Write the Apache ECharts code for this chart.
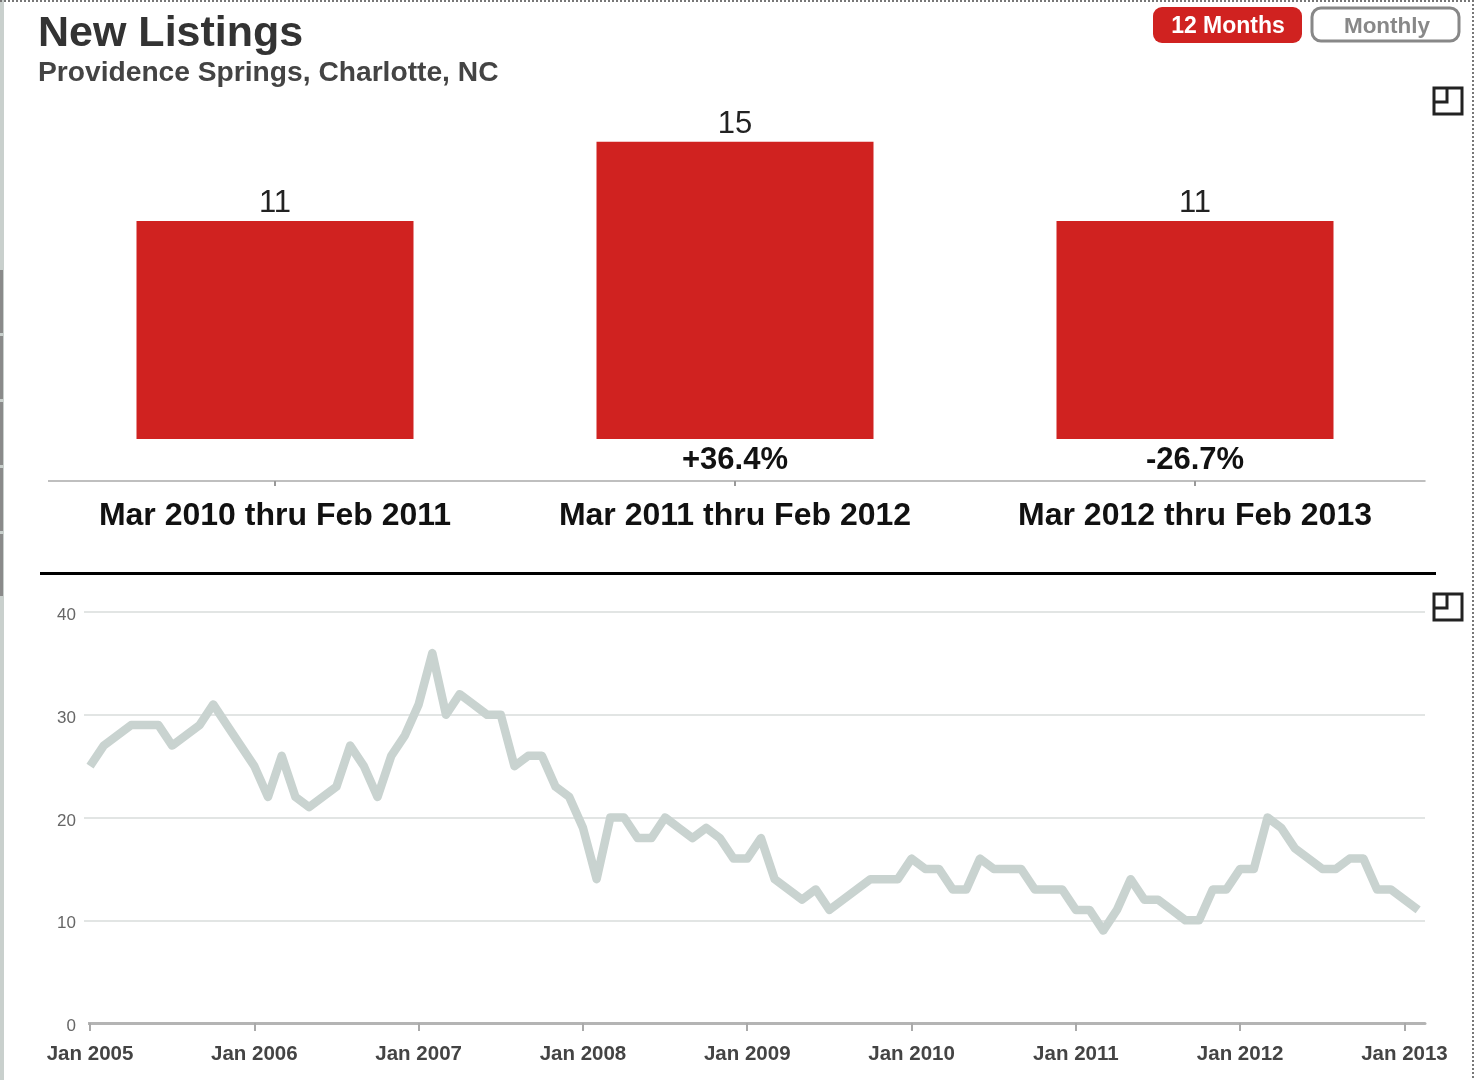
<!DOCTYPE html>
<html><head><meta charset="utf-8">
<style>html,body{margin:0;padding:0;background:#fff}#c{width:1475px;height:1080px}</style>
<script src="https://cdn.jsdelivr.net/npm/echarts@6/dist/echarts.min.js"></script>
</head><body><div id="c"></div>
<script>
const periodLabels = ['Mar 2010 thru Feb 2011','Mar 2011 thru Feb 2012','Mar 2012 thru Feb 2013'];
const periodValues = [11,15,11];
const periodChanges = ['','+36.4%','-26.7%'];
const monthlyValues = [
 25,27,28,29,29,29,27,28,29,31,29,27,
 25,22,26,22,21,22,23,27,25,22,26,28,
 31,36,30,32,31,30,30,25,26,26,23,22,
 19,14,20,20,18,18,20,19,18,19,18,16,
 16,18,14,13,12,13,11,12,13,14,14,14,
 16,15,15,13,13,16,15,15,15,13,13,13,
 11,11,9,11,14,12,12,11,10,10,13,13,
 15,15,20,19,17,16,15,15,16,16,13,13,
 12,11];
const yearTickPositions = [0,12,24,36,48,60,72,84,96];
const yearTickLabels = ['Jan 2005','Jan 2006','Jan 2007','Jan 2008','Jan 2009','Jan 2010','Jan 2011','Jan 2012','Jan 2013'];
const monthlyTicks = [0,10,20,30,40];

const FONT = '"Liberation Sans", Arial, sans-serif';
const RED = '#d02220';
const icon = (x,y) => ({type:'group',x,y,silent:true,children:[
  {type:'rect',shape:{x:0,y:0,width:28,height:26},style:{fill:'none',stroke:'#222',lineWidth:3}},
  {type:'polyline',shape:{points:[[0,14],[13,14],[13,0]]},style:{fill:'none',stroke:'#222',lineWidth:3}}
]});
const strip = (y,h) => ({type:'rect',silent:true,shape:{x:0,y,width:3,height:h},style:{fill:'#8a8a8a'}});
const mask = (x,y,w,h) => ({type:'rect',silent:true,z:10,shape:{x,y,width:w,height:h},style:{fill:'#fff'}});

const chart = echarts.init(document.getElementById('c'),null,{renderer:'canvas'});
chart.setOption({
  animation:false,
  backgroundColor:'#fff',
  textStyle:{fontFamily:FONT},
  title:[
    {text:'New Listings',left:38,top:13,padding:0,textStyle:{fontFamily:FONT,fontSize:43,fontWeight:'bold',color:'#333'}},
    {text:'Providence Springs, Charlotte, NC',left:38,top:59,padding:0,textStyle:{fontFamily:FONT,fontSize:28.2,fontWeight:'bold',color:'#444'}}
  ],
  grid:[
    {left:45,right:50,top:100,height:381,containLabel:false},
    {left:84,right:50,top:612,height:411,containLabel:false}
  ],
  xAxis:[
    {type:'category',gridIndex:0,data:periodLabels,
     axisLine:{onZero:false,lineStyle:{color:'#aaa',width:1.5}},
     axisTick:{show:true,alignWithLabel:true,length:5,lineStyle:{color:'#999',width:2}},
     axisLabel:{fontFamily:FONT,fontSize:32,fontWeight:'bold',color:'#111',margin:19,interval:0}},
    {type:'value',gridIndex:1,min:-0.44,max:97.5,splitLine:{show:false},
     axisLine:{onZero:false,lineStyle:{color:'#b4b4b4',width:3}},
     axisTick:{show:true,customValues:yearTickPositions,length:8,lineStyle:{color:'#aaa',width:2}},
     axisLabel:{customValues:yearTickPositions,fontFamily:FONT,fontSize:20.5,fontWeight:'bold',color:'#444',margin:21,showMinLabel:true,showMaxLabel:true,hideOverlap:false,
       formatter:v=>yearTickLabels[yearTickPositions.indexOf(v)]||''}}
  ],
  yAxis:[
    {type:'value',gridIndex:0,min:-2.12,max:17.1,show:false,splitLine:{show:false}},
    {type:'value',gridIndex:1,min:0,max:40,interval:10,
     axisLine:{show:false},axisTick:{show:false},
     splitLine:{show:true,lineStyle:{color:'#d8dcdb',width:1.5}},
     axisLabel:{customValues:monthlyTicks,fontFamily:FONT,fontSize:17,color:'#666',margin:8,verticalAlign:'top',lineHeight:7}}
  ],
  series:[
    {type:'bar',xAxisIndex:0,yAxisIndex:0,data:periodValues,barWidth:277,
     itemStyle:{color:RED},
     label:{show:true,position:'top',distance:2,fontFamily:FONT,fontSize:31,color:'#222'}},
    {type:'scatter',xAxisIndex:0,yAxisIndex:0,symbolSize:0,silent:true,
     itemStyle:{opacity:1},
     data:periodChanges.map(()=>0),
     label:{show:true,position:'bottom',distance:6,fontFamily:FONT,fontSize:31,fontWeight:'bold',color:'#111',opacity:1,
       formatter:p=>periodChanges[p.dataIndex]}},
    {type:'line',xAxisIndex:1,yAxisIndex:1,data:monthlyValues.map((v,i)=>[i,v]),
     symbol:'none',smooth:false,clip:false,
     lineStyle:{color:'#c9d3d0',width:8.5,join:'round',cap:'butt'}}
  ],
  graphic:[
    {type:'rect',silent:true,shape:{x:0,y:0,width:4,height:1080},style:{fill:'#c9d0cd'}},
    strip(270,63),strip(336,63),strip(402,63),strip(468,63),strip(534,62),
    {type:'line',silent:true,shape:{x1:0,y1:1,x2:1475,y2:1},style:{stroke:'#777',lineWidth:2,lineDash:[2,2]}},
    {type:'line',silent:true,shape:{x1:1473,y1:0,x2:1473,y2:1080},style:{stroke:'#777',lineWidth:2,lineDash:[2,2]}},
    {type:'rect',silent:true,shape:{x:1153,y:7,width:149,height:36,r:9},style:{fill:RED}},
    {type:'text',silent:true,x:1228,y:27,style:{text:'12 Months',font:'bold 23px '+FONT,fill:'#fff',textAlign:'center',textVerticalAlign:'middle'}},
    {type:'rect',silent:true,shape:{x:1312,y:8,width:147,height:33,r:9},style:{fill:'#fff',stroke:'#888',lineWidth:3}},
    {type:'text',silent:true,x:1387,y:27,style:{text:'Monthly',font:'bold 22.5px '+FONT,fill:'#888',textAlign:'center',textVerticalAlign:'middle'}},
    icon(1434,88),icon(1434,594),
    {type:'rect',silent:true,shape:{x:40,y:572,width:1396,height:3},style:{fill:'#000'}},
    mask(43,478,5,6),mask(82,1020,6,6)
  ]
});
</script></body></html>
